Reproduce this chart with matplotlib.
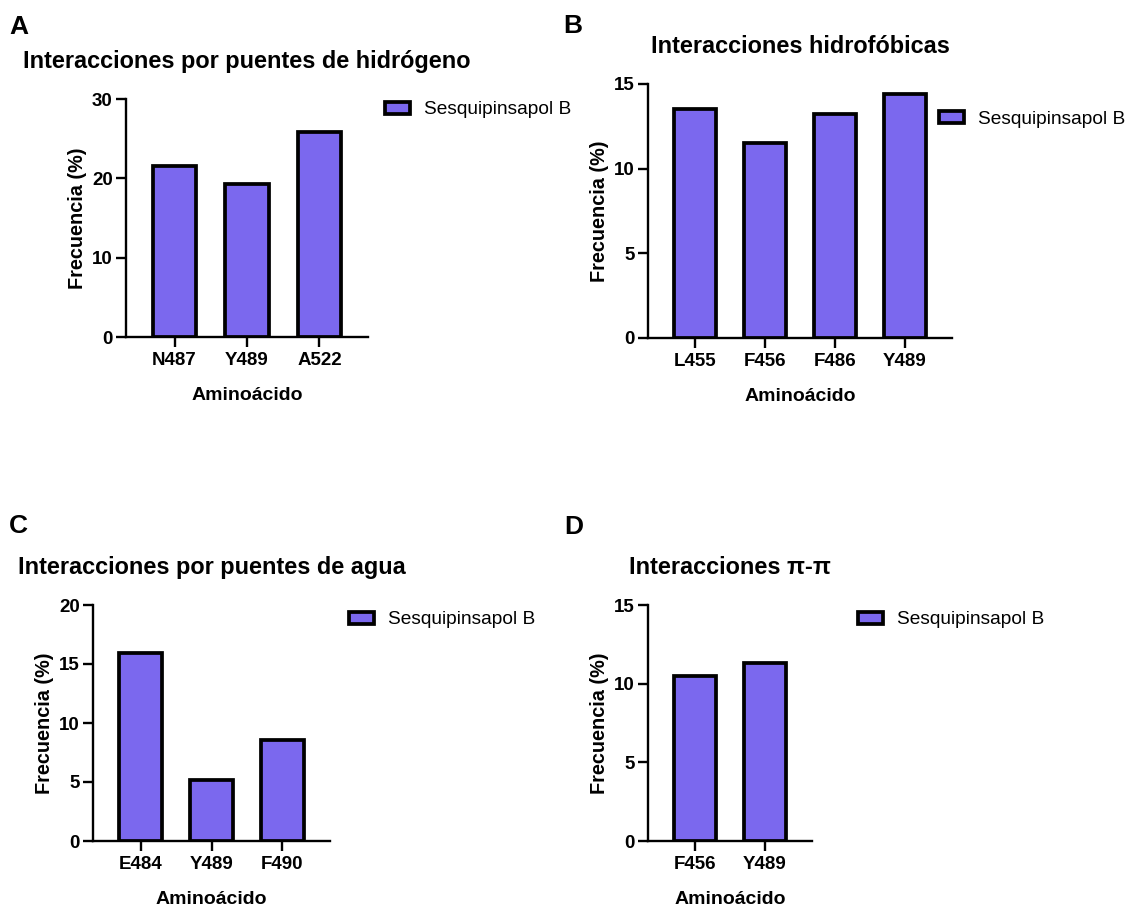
import matplotlib.pyplot as plt

plt.rcParams['font.family'] = ['Liberation Sans', 'DejaVu Sans']

W, H = 1128, 907

# --- data ---
cats_a = ['N487', 'Y489', 'A522']
vals_a = [21.6, 19.3, 25.8]

cats_b = ['L455', 'F456', 'F486', 'Y489']
vals_b = [13.5, 11.5, 13.2, 14.4]

cats_c = ['E484', 'Y489', 'F490']
vals_c = [15.9, 5.2, 8.6]

cats_d = ['F456', 'Y489']
vals_d = [10.5, 11.3]

series_name = 'Sesquipinsapol B'
purple = '#7B68EE'

fig = plt.figure(figsize=(W / 100, H / 100), dpi=100)


def panel(box, cats, vals, ymax, step, title, letter, letter_xy, leg_xy):
    # box is (left, top, right, bottom) in pixels
    l, t, r, b = box
    ax = fig.add_axes([l / W, 1 - b / H, (r - l) / W, (b - t) / H])
    x = list(range(len(cats)))
    ax.bar(x, vals, width=0.6, color=purple, edgecolor='black',
           linewidth=2.7, label=series_name, zorder=3)
    ax.set_xlim(-0.67, len(cats) - 1 + 0.67)
    ax.set_ylim(0, ymax)
    ax.set_yticks(list(range(0, ymax + 1, step)))
    ax.set_xticks(x)
    ax.set_xticklabels(cats)

    for s in ['top', 'right']:
        ax.spines[s].set_visible(False)
    for s in ['left', 'bottom']:
        ax.spines[s].set_linewidth(1.7)
    ax.tick_params(axis='both', direction='out', length=7, width=1.7,
                   labelsize=13.5)
    ax.tick_params(axis='x', pad=3.5)
    ax.tick_params(axis='y', pad=2.5)
    for lbl in ax.get_xticklabels() + ax.get_yticklabels():
        lbl.set_fontweight('bold')

    ax.set_xlabel('Aminoácido', fontsize=14, fontweight='bold')
    ax.set_ylabel('Frecuencia (%)', fontsize=14.3, fontweight='bold')
    ax.xaxis.set_label_coords(0.5, -50 / (b - t))
    ax.yaxis.set_label_coords(-39 / (r - l), 0.5)

    # title centred over the axes
    fig.text((l + r) / 2 / W, 1 - (t - 31) / H, title, ha='center',
             va='baseline', fontsize=16.9, fontweight='bold')
    fig.text(letter_xy[0] / W, 1 - letter_xy[1] / H, letter, ha='left',
             va='baseline', fontsize=19, fontweight='bold')

    ax.legend(loc='center left', bbox_to_anchor=(leg_xy[0] / W, 1 - leg_xy[1] / H),
              bbox_transform=fig.transFigure, frameon=False, fontsize=13.8,
              handlelength=1.3, handleheight=0.6, handletextpad=0.75,
              borderpad=0, borderaxespad=0)
    return ax


panel((126, 99, 368, 337), cats_a, vals_a, 30, 10,
      'Interacciones por puentes de hidrógeno', 'A', (9, 34), (385, 110))
panel((648, 84, 952, 338), cats_b, vals_b, 15, 5,
      'Interacciones hidrofóbicas', 'B', (563, 33), (939, 119))
panel((93, 605, 330, 841), cats_c, vals_c, 20, 5,
      'Interacciones por puentes de agua', 'C', (9, 533), (349, 620))
panel((648, 605, 812, 841), cats_d, vals_d, 15, 5,
      'Interacciones π-π', 'D', (564, 534), (858, 620))

fig.savefig('out.png', dpi=100)
